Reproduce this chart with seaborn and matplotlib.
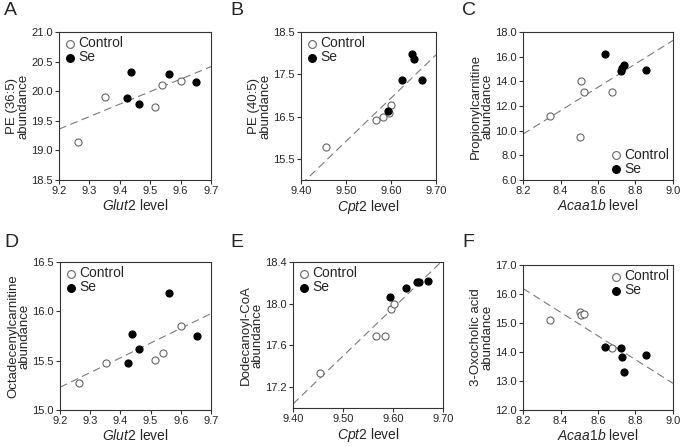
import numpy as np
import pandas as pd
import matplotlib
matplotlib.use('Agg')
import matplotlib.pyplot as plt
import seaborn as sns

# Gene levels (x) shared between panels
glut2_ctrl = [9.264, 9.352, 9.515, 9.540, 9.600]
glut2_se = [9.425, 9.437, 9.463, 9.562, 9.652]
cpt2_ctrl = [9.455, 9.566, 9.583, 9.596, 9.601]
cpt2_se = [9.594, 9.625, 9.647, 9.651, 9.669]
acaa1b_ctrl = [8.344, 8.504, 8.511, 8.525, 8.673]
acaa1b_se = [8.637, 8.723, 8.728, 8.736, 8.857]

# Metabolite abundances (y)
pe365_ctrl = [19.15, 19.91, 19.74, 20.10, 20.18]
pe365_se = [19.89, 20.32, 19.79, 20.29, 20.16]
pe405_ctrl = [15.77, 16.42, 16.48, 16.58, 16.78]
pe405_se = [16.63, 17.37, 17.97, 17.87, 17.37]
propionyl_ctrl = [11.2, 9.5, 14.05, 13.15, 13.15]
propionyl_se = [16.25, 14.85, 15.05, 15.3, 14.95]
octadec_ctrl = [15.27, 15.48, 15.51, 15.58, 15.85]
octadec_se = [15.48, 15.77, 15.62, 16.19, 15.75]
dodec_ctrl = [17.34, 17.69, 17.69, 17.95, 18.00]
dodec_se = [18.06, 18.15, 18.21, 18.21, 18.22]
oxochol_ctrl = [15.10, 15.37, 15.27, 15.32, 14.14]
oxochol_se = [14.18, 14.15, 13.83, 13.31, 13.90]

groups = ['Control', 'Se']

sns.set_style('ticks')
plt.rcParams['font.family'] = ['Liberation Sans', 'DejaVu Sans']
plt.rcParams['mathtext.fontset'] = 'custom'
plt.rcParams['mathtext.rm'] = 'Liberation Sans'
plt.rcParams['mathtext.it'] = 'Liberation Sans:italic'

W, H = 684, 447
fig = plt.figure(figsize=(W / 100, H / 100), dpi=100)


def make_ax(x0, y0, x1, y1):
    return fig.add_axes([x0 / W, 1 - y1 / H, (x1 - x0) / W, (y1 - y0) / H])


panels = [
    dict(letter='A', box=(59, 32, 211, 180), lpos=(4, 2),
         x=(glut2_ctrl, glut2_se), y=(pe365_ctrl, pe365_se),
         xlim=(9.2, 9.7), xticks=np.arange(9.2, 9.71, 0.1), xfmt='{:.1f}',
         ylim=(18.5, 21.0), yticks=np.arange(18.5, 21.01, 0.5), yfmt='{:.1f}',
         gene='Glut2', ylabel='PE (36:5)\nabundance', leg='upper left'),
    dict(letter='B', box=(301, 32, 436, 180), lpos=(230, 2),
         x=(cpt2_ctrl, cpt2_se), y=(pe405_ctrl, pe405_se),
         xlim=(9.4, 9.7), xticks=np.arange(9.4, 9.71, 0.1), xfmt='{:.2f}',
         ylim=(15.0, 18.5), yticks=[15.5, 16.5, 17.5, 18.5], yfmt='{:.1f}',
         gene='Cpt2', ylabel='PE (40:5)\nabundance', leg='upper left'),
    dict(letter='C', box=(523, 32, 673, 180), lpos=(462, 2),
         x=(acaa1b_ctrl, acaa1b_se), y=(propionyl_ctrl, propionyl_se),
         xlim=(8.2, 9.0), xticks=np.arange(8.2, 9.01, 0.2), xfmt='{:.1f}',
         ylim=(6.0, 18.0), yticks=np.arange(6, 18.1, 2), yfmt='{:.1f}',
         gene='Acaa1b', ylabel='Propionylcarnitine\nabundance', leg='lower right'),
    dict(letter='D', box=(60, 262, 211, 410), lpos=(4, 234),
         x=(glut2_ctrl, glut2_se), y=(octadec_ctrl, octadec_se),
         xlim=(9.2, 9.7), xticks=np.arange(9.2, 9.71, 0.1), xfmt='{:.1f}',
         ylim=(15.0, 16.5), yticks=np.arange(15.0, 16.51, 0.5), yfmt='{:.1f}',
         gene='Glut2', ylabel='Octadecenylcarnitine\nabundance', leg='upper left'),
    dict(letter='E', box=(293, 262, 443, 408), lpos=(230, 234),
         x=(cpt2_ctrl, cpt2_se), y=(dodec_ctrl, dodec_se),
         xlim=(9.4, 9.7), xticks=np.arange(9.4, 9.71, 0.1), xfmt='{:.2f}',
         ylim=(17.0, 18.4), yticks=[17.2, 17.6, 18.0, 18.4], yfmt='{:.1f}',
         gene='Cpt2', ylabel='Dodecanoyl-CoA\nabundance', leg='upper left'),
    dict(letter='F', box=(523, 265, 673, 410), lpos=(462, 234),
         x=(acaa1b_ctrl, acaa1b_se), y=(oxochol_ctrl, oxochol_se),
         xlim=(8.2, 9.0), xticks=np.arange(8.2, 9.01, 0.2), xfmt='{:.1f}',
         ylim=(12.0, 17.0), yticks=np.arange(12, 17.1, 1), yfmt='{:.1f}',
         gene='Acaa1b', ylabel='3-Oxocholic acid\nabundance', leg='upper right'),
]

for p in panels:
    ax = make_ax(*p['box'])
    ax.set_xlim(p['xlim'])
    ax.set_ylim(p['ylim'])

    df = pd.DataFrame({
        'x': list(p['x'][0]) + list(p['x'][1]),
        'y': list(p['y'][0]) + list(p['y'][1]),
        'group': [groups[0]] * len(p['x'][0]) + [groups[1]] * len(p['x'][1]),
    })

    # regression line over both groups, spanning the full x range
    sns.regplot(data=df, x='x', y='y', scatter=False, ci=None, truncate=False,
                ax=ax, line_kws=dict(color='#7a7a7a', lw=0.8, dashes=(7, 4)))

    sns.scatterplot(data=df[df.group == 'Control'], x='x', y='y', ax=ax,
                    marker='o', s=26, facecolor='white', edgecolor='#666666',
                    linewidth=0.8, label='Control', zorder=3)
    sns.scatterplot(data=df[df.group == 'Se'], x='x', y='y', ax=ax,
                    marker='o', s=26, color='black', edgecolor='black',
                    linewidth=0.8, label='Se', zorder=4)

    ax.set_xlim(p['xlim'])
    ax.set_ylim(p['ylim'])
    ax.set_xticks(p['xticks'])
    ax.set_xticklabels([p['xfmt'].format(v) for v in p['xticks']])
    ax.set_yticks(p['yticks'])
    ax.set_yticklabels([p['yfmt'].format(v) for v in p['yticks']])
    ax.tick_params(labelsize=8, length=3, width=0.8, pad=1.5, color='#333333')
    for s in ax.spines.values():
        s.set_visible(True)
        s.set_linewidth(0.8)
        s.set_color('#333333')

    ax.set_xlabel(r'$\mathit{' + p['gene'] + r'}$ level', fontsize=10, labelpad=1)
    ax.set_ylabel(p['ylabel'], fontsize=9.5, labelpad=1, linespacing=0.95)

    ax.legend(loc=p['leg'], frameon=False, fontsize=10, handletextpad=0.1,
              labelspacing=0.0, borderpad=0.1, borderaxespad=0.2,
              handlelength=1.0, markerscale=1.1)

    fig.text(p['lpos'][0] / W, 1 - p['lpos'][1] / H, p['letter'],
             fontsize=14, va='top', ha='left')

fig.savefig('out.png', dpi=100)
